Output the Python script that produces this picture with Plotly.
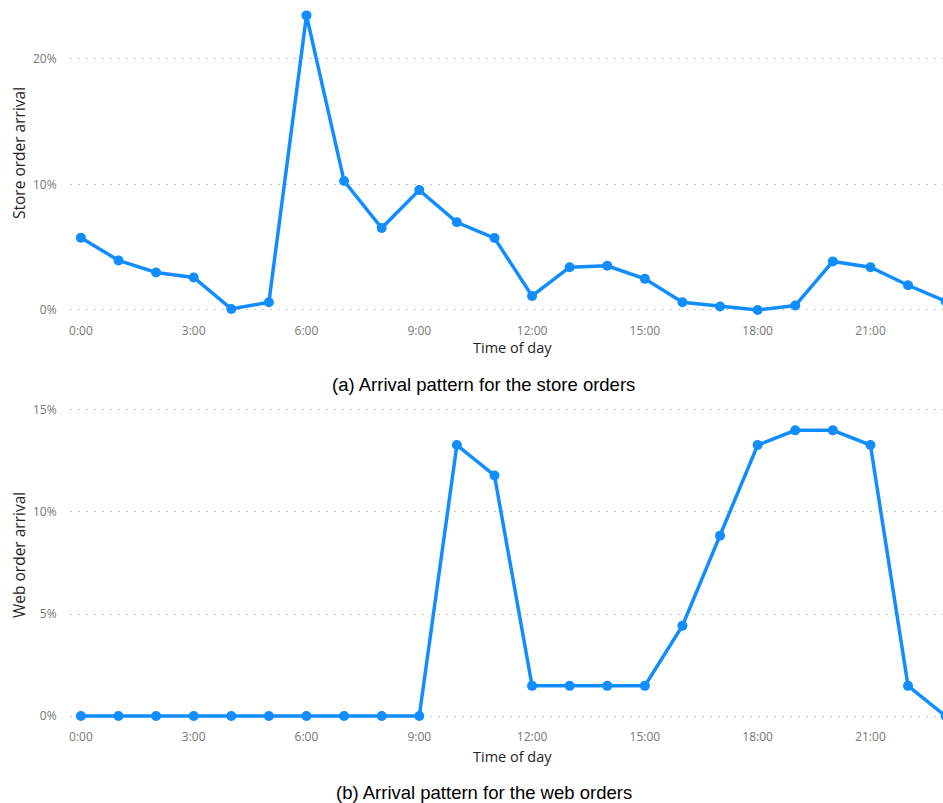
import plotly.graph_objects as go

hours = list(range(24))
tick_hours = [0, 3, 6, 9, 12, 15, 18, 21]
tick_text = [f"{h}:00" for h in tick_hours]

store_pct = [5.76, 3.95, 2.99, 2.59, 0.08, 0.61, 23.47, 10.27, 6.53, 9.55, 6.99, 5.73,
             1.12, 3.41, 3.52, 2.48, 0.61, 0.27, 0.0, 0.35, 3.87, 3.41, 1.97, 0.7]
web_pct = [0, 0, 0, 0, 0, 0, 0, 0, 0, 0, 13.28, 11.79,
           1.48, 1.48, 1.48, 1.48, 4.43, 8.84, 13.28, 14.0, 14.0, 13.28, 1.48, 0.0]

store = [v / 100 for v in store_pct]
web = [v / 100 for v in web_pct]

W, H = 943, 803
BLUE = "#118DFF"
GRID = "#C8C8C8"
TICKC = "#777777"
TITLEC = "#252423"
FONT = "Open Sans"

def py(px):
    return 1 - px / H

fig = go.Figure()
fig.add_trace(go.Scatter(x=hours, y=store, mode="lines+markers",
                         line=dict(color=BLUE, width=3.5),
                         marker=dict(color=BLUE, size=10),
                         xaxis="x", yaxis="y", showlegend=False))
fig.add_trace(go.Scatter(x=hours, y=web, mode="lines+markers",
                         line=dict(color=BLUE, width=3.5),
                         marker=dict(color=BLUE, size=10),
                         xaxis="x2", yaxis="y2", showlegend=False))

xcommon = dict(range=[-0.29, 22.93], tickmode="array", tickvals=tick_hours, ticktext=tick_text,
               showgrid=False, zeroline=False, showline=False,
               tickfont=dict(family=FONT, size=12, color=TICKC),
               ticks="outside", ticklen=2, tickcolor="rgba(0,0,0,0)",
               domain=[70 / W, 1])
ycommon = dict(tickformat=".0%", showgrid=True, gridcolor=GRID, griddash="2px,6px", gridwidth=1.2,
               zeroline=False, showline=False,
               tickfont=dict(family=FONT, size=12, color=TICKC),
               ticks="outside", ticklen=10, tickcolor="rgba(0,0,0,0)")

fig.update_layout(
    width=W, height=H,
    margin=dict(l=0, r=0, t=0, b=0),
    paper_bgcolor="white", plot_bgcolor="white",
    xaxis=dict(**xcommon, anchor="y"),
    yaxis=dict(**ycommon, range=[-0.0064, 0.2406], tickvals=[0, 0.1, 0.2],
               domain=[py(318), py(8)], anchor="x"),
    xaxis2=dict(**xcommon, anchor="y2"),
    yaxis2=dict(**ycommon, range=[-0.0039, 0.1539], tickvals=[0, 0.05, 0.1, 0.15],
                domain=[py(724), py(402)], anchor="x2"),
    annotations=[
        dict(text="Store order arrival", x=19 / W, y=py(153), xref="paper", yref="paper",
             textangle=-90, showarrow=False, xanchor="center", yanchor="middle",
             font=dict(family=FONT, size=15.5, color=TITLEC)),
        dict(text="Time of day", x=512 / W, y=py(348), xref="paper", yref="paper",
             showarrow=False, xanchor="center", yanchor="middle",
             font=dict(family=FONT, size=14.5, color=TITLEC)),
        dict(text="(a) Arrival pattern for the store orders", x=484 / W, y=py(385),
             xref="paper", yref="paper", showarrow=False, xanchor="center", yanchor="middle",
             font=dict(family="Liberation Sans, Arial", size=18.5, color="#000000")),
        dict(text="Web order arrival", x=19 / W, y=py(555), xref="paper", yref="paper",
             textangle=-90, showarrow=False, xanchor="center", yanchor="middle",
             font=dict(family=FONT, size=15.5, color=TITLEC)),
        dict(text="Time of day", x=512 / W, y=py(756), xref="paper", yref="paper",
             showarrow=False, xanchor="center", yanchor="middle",
             font=dict(family=FONT, size=14.5, color=TITLEC)),
        dict(text="(b) Arrival pattern for the web orders", x=484 / W, y=py(792),
             xref="paper", yref="paper", showarrow=False, xanchor="center", yanchor="middle",
             font=dict(family="Liberation Sans, Arial", size=18.5, color="#000000")),
    ],
)

fig.write_html("out.html")
